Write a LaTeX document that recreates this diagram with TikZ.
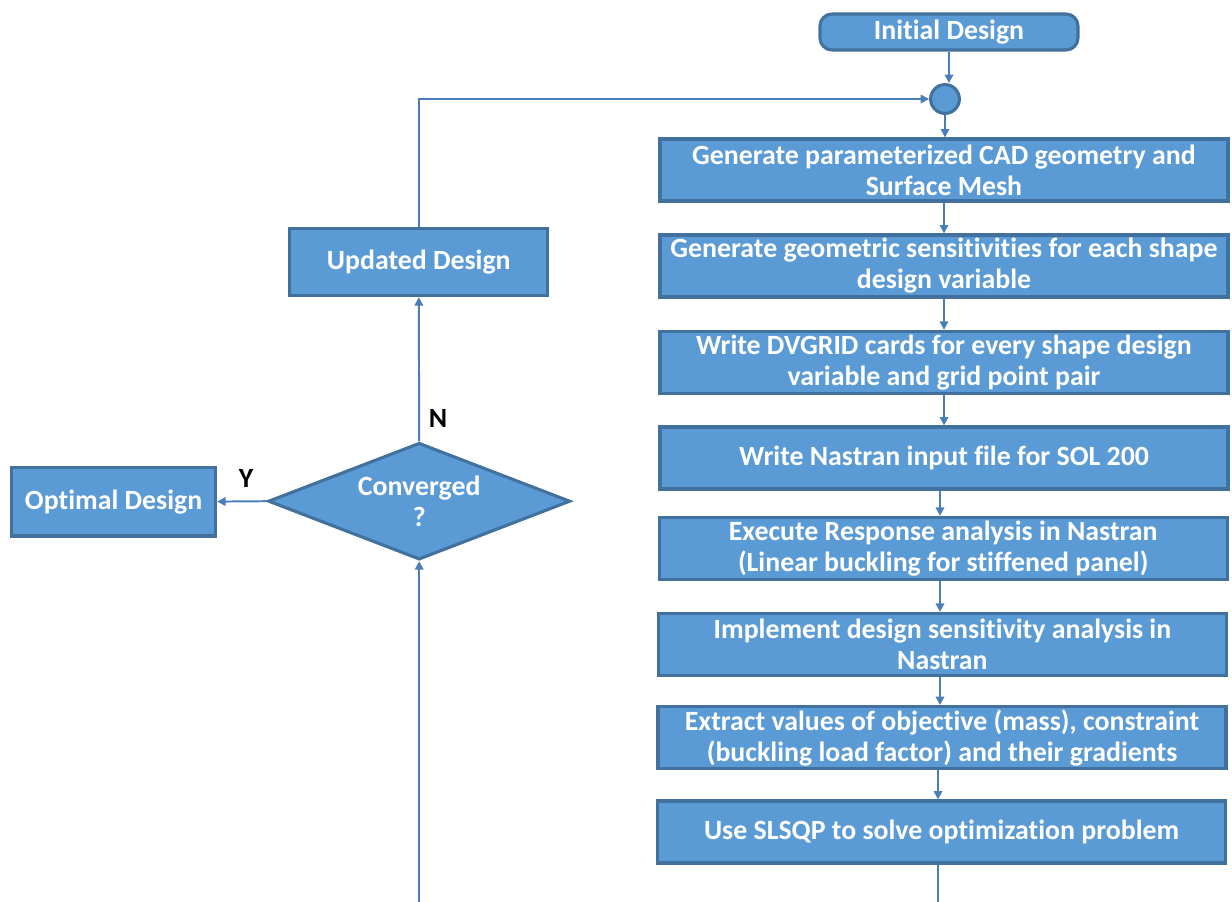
\documentclass[tikz,border=0pt]{standalone}
\usepackage{fontspec}
\setmainfont{Carlito}[Ligatures=NoCommon]
\usepackage{tikz}
\usetikzlibrary{shapes.geometric, arrows.meta, positioning}
\definecolor{boxfill}{RGB}{91,155,213}
\definecolor{boxline}{RGB}{65,113,156}
\definecolor{linkcol}{RGB}{74,126,187}
\tikzset{
    startstop/.style={rectangle, rounded corners=0.3cm, minimum width=6.45cm, minimum height=0.9cm, inner sep=0pt, align=center, draw=boxline, line width=2.2pt, fill=boxfill, text=white, font=\fontsize{19.8}{22}\selectfont\bfseries},
    process/.style={rectangle, minimum width=14.2cm, minimum height=1.55cm, inner sep=0pt, align=center, draw=boxline, line width=2.2pt, fill=boxfill, text=white, font=\fontsize{19.8}{22}\selectfont\bfseries},
    design/.style={process, minimum width=6.45cm, minimum height=1.68cm},
    decision/.style={diamond, aspect=2.58, minimum width=7.55cm, minimum height=2.92cm, inner sep=0pt, align=center, draw=boxline, line width=2.2pt, fill=boxfill, text=white, font=\fontsize{19.8}{22}\selectfont\bfseries},
    junction/.style={circle, minimum size=0.72cm, inner sep=0pt, draw=boxline, line width=2.2pt, fill=boxfill},
    answer/.style={font=\fontsize{19.8}{22}\selectfont\bfseries, text=black},
    arrow/.style={line width=1.4pt, draw=linkcol, -{Triangle[length=6pt, width=6pt]}}
}

\begin{document}
\begin{tikzpicture}
    \useasboundingbox (0,0) rectangle (30.8,-22.55);

    % Main chain on the right
    \node[startstop] (init) at (23.725,-0.8) {Initial Design};
    \node[junction] (join) at (23.625,-2.475) {};
    \node[process] (cad) at (23.6,-4.25) {Generate parameterized CAD geometry and\\Surface Mesh};
    \node[process] (sens) at (23.6,-6.65) {Generate geometric sensitivities for each shape\\design variable};
    \node[process] (dvgrid) at (23.6,-9.06) {Write DVGRID cards for every shape design\\variable and grid point pair};
    \node[process] (input) at (23.6,-11.45) {Write Nastran input file for SOL 200};
    \node[process] (resp) at (23.58,-13.71) {Execute Response analysis in Nastran\\(Linear buckling for stiffened panel)};
    \node[process] (dsa) at (23.56,-16.11) {Implement design sensitivity analysis in\\Nastran};
    \node[process] (extract) at (23.55,-18.44) {Extract values of objective (mass), constraint\\(buckling load factor) and their gradients};
    \node[process] (slsqp) at (23.54,-20.8) {Use SLSQP to solve optimization problem};

    % Convergence check on the left
    \node[decision] (conv) at (10.48,-12.53) {Converged\\?};
    \node[design, minimum width=5.1cm, minimum height=1.72cm] (opt) at (2.84,-12.54) {Optimal Design};
    \node[design] (upd) at (10.47,-6.55) {Updated Design};
    \node[answer] (yes) at (6.15,-11.95) {Y};
    \node[answer] (no) at (10.95,-10.45) {N};

    % Loop ends
    \coordinate (turn) at (10.47,-2.475);
    \coordinate (outright) at (23.45,-22.55);
    \coordinate (outleft) at (10.48,-22.55);

    % Connectors
    \draw[arrow] (init) -- (init |- join.north);
    \draw[arrow] (join) -- (join |- cad.north);
    \draw[arrow] (cad) -- (cad |- sens.north);
    \draw[arrow] (sens) -- (sens |- dvgrid.north);
    \draw[arrow] (dvgrid) -- (dvgrid |- input.north);
    \draw[arrow] (input.south -| 23.5,0) -- (23.5,0 |- resp.north);
    \draw[arrow] (resp.south -| 23.5,0) -- (23.5,0 |- dsa.north);
    \draw[arrow] (dsa.south -| 23.5,0) -- (23.5,0 |- extract.north);
    \draw[arrow] (extract.south -| 23.45,0) -- (23.45,0 |- slsqp.north);
    \draw[line width=1.4pt, draw=linkcol] (slsqp.south -| outright) -- (outright);
    \draw[arrow] (outleft) -- (conv.south);
    \draw[arrow] (conv.north) -- (upd.south);
    \draw[arrow] (conv.west) -- (opt.east);
    \draw[arrow] (upd.north) -- (turn) -- (join.west);
\end{tikzpicture}
\end{document}
